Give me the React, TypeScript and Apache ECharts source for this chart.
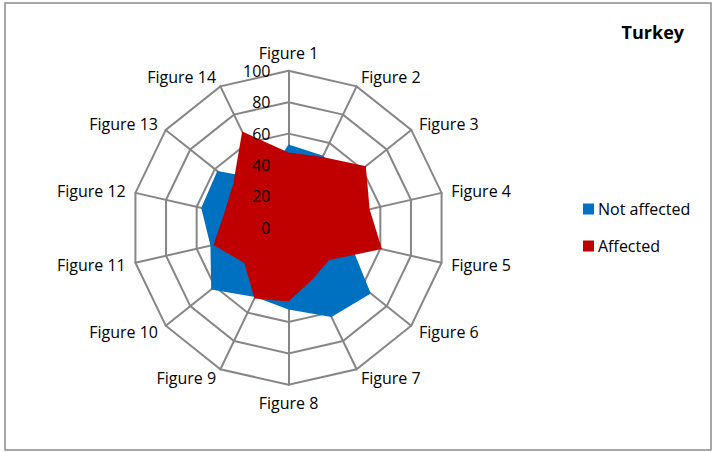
import React, { useEffect, useRef } from "react";
import * as echarts from "echarts";

const indicators = [
  "Figure 1", "Figure 2", "Figure 3", "Figure 4", "Figure 5", "Figure 6", "Figure 7",
  "Figure 8", "Figure 9", "Figure 10", "Figure 11", "Figure 12", "Figure 13", "Figure 14",
];
const notAffected = [53, 51, 45, 45, 40, 67, 63, 52, 49, 63, 51, 57, 58, 34];
const affected = [48, 50, 63, 53, 61, 33, 36, 47, 50, 36, 49, 42, 45, 68];
const seriesNames = ["Not affected", "Affected"];
const titleText = "Turkey";
const axisMax = 100;
const axisStep = 20;

const FONT = "'Open Sans', 'Noto Sans', sans-serif";

// ECharts radar runs counter-clockwise; reorder so the axes run clockwise.
const clockwise = <T,>(arr: T[]): T[] => [arr[0], ...arr.slice(1).reverse()];

export default function App() {
  const ref = useRef<HTMLDivElement>(null);
  useEffect(() => {
    if (!ref.current) return;
    const chart = echarts.init(ref.current, undefined, { renderer: "svg" });
    const center = [288.5, 227.8];
    const radius = 157;
    chart.setOption({
      animation: false,
      backgroundColor: "#ffffff",
      title: {
        text: titleText,
        right: 29,
        top: 23,
        padding: 0,
        textStyle: { fontFamily: FONT, fontSize: 18, fontWeight: "bold", color: "#000" },
      },
      legend: {
        orient: "vertical",
        left: 583,
        top: 201,
        padding: 0,
        itemWidth: 11,
        itemHeight: 11,
        itemGap: 21,
        icon: "rect",
        data: seriesNames,
        textStyle: { fontFamily: FONT, fontSize: 16, color: "#000", padding: [0, 0, 0, -1] },
      },
      radar: {
        center,
        radius,
        startAngle: 90,
        shape: "polygon",
        splitNumber: axisMax / axisStep,
        indicator: clockwise(indicators).map((n) => ({ name: n, max: axisMax, min: 0 })),
        axisName: { color: "#000", fontFamily: FONT, fontSize: 16 },
        nameGap: 10,
        splitLine: { lineStyle: { color: "#868686", width: 2 } },
        splitArea: { show: false },
        axisLine: { lineStyle: { color: "#868686", width: 2 } },
        axisLabel: { show: false },
        axisTick: { show: false },
      },
      polar: { center, radius },
      angleAxis: {
        show: false,
        startAngle: 90,
        min: 0,
        max: 360,
      },
      radiusAxis: {
        min: 0,
        max: axisMax,
        interval: axisStep,
        axisLine: { show: false },
        axisTick: { show: false },
        splitLine: { show: false },
        axisLabel: {
          show: true,
          margin: 18,
          color: "#000",
          fontFamily: FONT,
          fontSize: 16,
        },
        z: 10,
      },
      series: [
        {
          name: seriesNames[0],
          type: "radar",
          symbol: "none",
          data: [{ value: clockwise(notAffected), name: seriesNames[0] }],
          itemStyle: { color: "#0070C0" },
          lineStyle: { width: 0 },
          areaStyle: { color: "#0070C0", opacity: 1 },
          z: 1,
        },
        {
          name: seriesNames[1],
          type: "radar",
          symbol: "none",
          data: [{ value: clockwise(affected), name: seriesNames[1] }],
          itemStyle: { color: "#C00000" },
          lineStyle: { width: 0 },
          areaStyle: { color: "#C00000", opacity: 1 },
          z: 2,
        },
      ],
      graphic: [
        {
          type: "rect",
          shape: { x: 5, y: 3, width: 706, height: 447 },
          style: { fill: "none", stroke: "#8c8c8c", lineWidth: 1.5 },
          silent: true,
          z: 100,
        },
      ],
    });
    return () => chart.dispose();
  }, []);
  return (
    <div
      ref={ref}
      style={{ position: "fixed", left: 0, top: 0, width: 713, height: 452 }}
    />
  );
}
